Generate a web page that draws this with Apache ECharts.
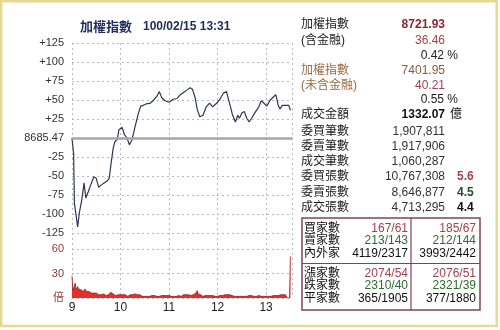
<!DOCTYPE html>
<html>
<head>
<meta charset="utf-8">
<script src="https://cdn.jsdelivr.net/npm/echarts@6/dist/echarts.min.js"></script>
<style>
  html, body { margin: 0; padding: 0; background: #fff; }
  #chart { width: 500px; height: 330px; }
</style>
</head>
<body>
<div id="chart"></div>
<script>
// Taiwan weighted index, intraday session 09:00 - 13:30
const prevClose = 8685.47;
const sessionTitle = '加權指數';
const sessionStamp = '100/02/15 13:31';
const hourLabels = ['9', '10', '11', '12', '13'];

// minutes after 09:00 and change against the previous close
const priceMinutes = [0, 1, 2, 3, 7, 9, 12, 15, 17, 20, 23, 27, 30, 33, 36, 40, 43, 46, 48, 51,
  53, 56, 58, 60, 62, 65, 68, 71, 74, 78, 82, 85, 88, 92, 97, 101, 105, 108, 111, 115,
  120, 125, 130, 134, 138, 142, 146, 149, 152, 155, 158, 162, 166, 170, 174, 179, 183, 187, 191, 193,
  196, 198, 202, 205, 207, 210, 213, 216, 219, 222, 226, 231, 234, 237, 241, 245, 249, 252, 255, 257,
  260, 264, 268, 270];
const priceChanges = [0, -11, -20, -86, -117, -99, -82, -59, -79, -71, -62, -51, -53, -65, -62, -59, -57, -53, -36, -13,
  -5, -2, 11, 10, 14, 4, 0, -9, -3, 15, 32, 42, 43, 45, 46, 50, 55, 61, 53, 49,
  47, 51, 52, 57, 60, 63, 66, 64, 54, 37, 28, 30, 41, 46, 41, 46, 51, 59, 61, 59,
  41, 32, 21, 30, 26, 33, 35, 26, 21, 26, 33, 41, 49, 46, 42, 50, 54, 57, 43, 38,
  43, 43, 43, 36.46];

// per-minute volume ratio (倍), minute 0 .. 270
const volumeRatio = [
  27, 9, 8, 11, 18, 10, 12, 14, 11, 13,
  12, 10, 9, 11, 8, 9, 11, 10, 8, 9,
  7, 8, 9, 7, 6, 7, 5, 6, 7, 5,
  6, 5, 6, 4, 5, 6, 4, 5, 4, 5,
  4, 5, 3, 4, 5, 4, 5, 6, 7, 7,
  6, 5, 4, 4, 3, 4, 3, 4, 3, 3,
  4, 3, 3, 4, 3, 3, 4, 3, 3, 2,
  3, 3, 4, 3, 3, 4, 3, 4, 5, 4,
  6, 4, 3, 3, 4, 3, 3, 2, 3, 3,
  2, 3, 3, 2, 3, 3, 2, 3, 2, 3,
  3, 2, 3, 4, 3, 2, 3, 3, 2, 3,
  2, 3, 2, 3, 3, 2, 2, 3, 2, 3,
  3, 2, 3, 2, 2, 3, 2, 3, 3, 2,
  3, 2, 3, 4, 3, 2, 3, 3, 4, 3,
  3, 4, 3, 5, 4, 3, 4, 3, 4, 5,
  4, 5, 4, 6, 5, 9, 5, 4, 3, 4,
  3, 3, 2, 3, 2, 3, 2, 2, 3, 2,
  2, 3, 2, 2, 3, 2, 3, 2, 2, 3,
  2, 3, 2, 3, 3, 2, 3, 2, 3, 4,
  3, 3, 4, 3, 5, 4, 6, 3, 3, 2,
  3, 2, 3, 2, 2, 3, 2, 2, 3, 2,
  2, 3, 2, 2, 2, 3, 2, 2, 2, 3,
  2, 2, 3, 2, 2, 2, 3, 2, 2, 2,
  2, 3, 2, 2, 2, 3, 2, 2, 3, 2,
  2, 2, 3, 2, 2, 3, 2, 2, 3, 3,
  3, 4, 3, 4, 5, 3, 4, 5, 4, 3,
  5, 4, 5, 6, 4, 5, 0, 0, 0, 0,
  51
];

// ex-financials index
const exFinIndex = 7401.95;
const exFinChange = 40.21;
const turnover = '1332.07';

const tradeLabels = ['委買筆數', '委賣筆數', '成交筆數', '委買張數', '委賣張數', '成交張數'];
const tradeValues = ['1,907,811', '1,917,906', '1,060,287', '10,767,308', '8,646,877', '4,713,295'];
const tradeRatios = ['', '', '', '5.6', '4.5', '4.4'];

const breadthLabels = ['買家數', '賣家數', '內外家', '漲家數', '跌家數', '平家數'];
const breadthNow = ['167/61', '213/143', '4119/2317', '2074/54', '2310/40', '365/1905'];
const breadthPrev = ['185/67', '212/144', '3993/2442', '2076/51', '2321/39', '377/1880'];

const FONT = '"Liberation Sans", Arial, "Noto Sans CJK TC", sans-serif';
const RED = '#a3404f';
const GREEN = '#2f6a2f';
const GRID = '#b9b9b9';

const lastChange = priceChanges[priceChanges.length - 1];
const lastIndex = prevClose + lastChange;
const pct = (lastChange / prevClose * 100).toFixed(2);
const exPct = (exFinChange / (exFinIndex - exFinChange) * 100).toFixed(2);

const pricePoints = priceMinutes.map((m, i) => [m, priceChanges[i]]);
const volumePoints = volumeRatio.map((v, i) => [i, v]);

// right-hand quote panel
const panel = [];
function txt(x, y, s, opt) {
  panel.push({
    type: 'text', x: x, y: y, silent: true,
    style: Object.assign({
      text: s, font: '12px ' + FONT, fill: '#222',
      textAlign: 'left', textVerticalAlign: 'middle'
    }, opt || {})
  });
}
txt(80, 27, sessionTitle, { font: 'bold 13px ' + FONT, fill: '#1d2b5e' });
txt(143, 27, sessionStamp, { font: 'bold 12px ' + FONT, fill: '#1d2b5e' });

const LX = 301, VX = 445;
txt(LX, 25, '加權指數');
txt(VX, 25, lastIndex.toFixed(2), { textAlign: 'right', font: 'bold 12px ' + FONT, fill: '#8a2637' });
txt(LX, 41, '(含金融)');
txt(VX, 41, lastChange.toFixed(2), { textAlign: 'right', fill: RED });
txt(458, 56, pct + ' %', { textAlign: 'right' });
txt(LX, 71, '加權指數', { fill: '#9c6b3c' });
txt(VX, 71, exFinIndex.toFixed(2), { textAlign: 'right', fill: '#8a5a3c' });
txt(LX, 86, '(未含金融)', { fill: '#9c6b3c' });
txt(VX, 86, exFinChange.toFixed(2), { textAlign: 'right', fill: RED });
txt(458, 100, exPct + ' %', { textAlign: 'right' });
txt(LX, 115, '成交金額');
txt(VX, 115, turnover, { textAlign: 'right', font: 'bold 12px ' + FONT, fill: '#111' });
txt(450, 115, '億', { fill: '#111' });

const ratioColors = ['', '', '', RED, '#1f4f1f', '#111'];
tradeLabels.forEach((lab, i) => {
  const y = 131.5 + i * 15.2;
  txt(LX, y, lab);
  txt(VX, y, tradeValues[i], { textAlign: 'right', fill: '#333' });
  if (tradeRatios[i]) {
    txt(457, y, tradeRatios[i], { font: 'bold 12px ' + FONT, fill: ratioColors[i] });
  }
});

// market breadth table
panel.push({
  type: 'rect', silent: true,
  shape: { x: 302, y: 218, width: 178, height: 92 },
  style: { fill: 'none', stroke: '#7d4458', lineWidth: 1.5 }
});
panel.push({
  type: 'line', silent: true,
  shape: { x1: 411, y1: 218, x2: 411, y2: 310 },
  style: { stroke: '#7d4458', lineWidth: 1.2 }
});
panel.push({
  type: 'line', silent: true,
  shape: { x1: 302, y1: 263.5, x2: 480, y2: 263.5 },
  style: { stroke: '#7d4458', lineWidth: 1.2 }
});
const rowY = [228.5, 241, 254, 273.5, 286, 298.5];
const cellColors = [RED, GREEN, '#111', RED, GREEN, '#111'];
breadthLabels.forEach((lab, i) => {
  txt(304, rowY[i], lab, { fill: '#111' });
  txt(408, rowY[i], breadthNow[i], { textAlign: 'right', fill: cellColors[i] });
  txt(476, rowY[i], breadthPrev[i], { textAlign: 'right', fill: cellColors[i] });
});

// outer frame
panel.push({
  type: 'rect', silent: true, z: 100,
  shape: { x: 1.2, y: 1.2, width: 495.5, height: 324.8 },
  style: { fill: 'none', stroke: '#e4da92', lineWidth: 2.4 }
});

const dashed = { show: true, lineStyle: { color: GRID, type: [2, 3], width: 1 } };

const chart = echarts.init(document.getElementById('chart'), null, { renderer: 'canvas' });
chart.setOption({
  animation: false,
  backgroundColor: '#fff',
  textStyle: { fontFamily: FONT },
  graphic: panel,
  grid: [
    { left: 72, top: 43, width: 220, height: 190 },
    { left: 72, top: 233, width: 220, height: 65 }
  ],
  xAxis: [
    {
      type: 'value', gridIndex: 0, min: 0, max: 272, interval: 60,
      axisLine: { show: false }, axisTick: { show: false }, axisLabel: { show: false },
      splitLine: dashed
    },
    {
      type: 'value', gridIndex: 1, min: 0, max: 272, interval: 60,
      axisLine: { show: false }, axisTick: { show: false },
      splitLine: dashed,
      axisLabel: {
        margin: 4, fontSize: 12, color: '#222', fontFamily: FONT,
        showMaxLabel: false,
        formatter: v => (v % 60 === 0 ? hourLabels[v / 60] : '')
      }
    }
  ],
  yAxis: [
    {
      type: 'value', gridIndex: 0, min: -125, max: 125, interval: 25,
      axisLine: { show: false }, axisTick: { show: false },
      splitLine: dashed,
      axisLabel: {
        margin: 8, fontSize: 11, color: '#333', fontFamily: FONT,
        formatter: v => (v > 0 ? '+' + v : v === 0 ? prevClose.toFixed(2) : String(v))
      }
    },
    {
      type: 'value', gridIndex: 1, min: 0, max: 79.5, interval: 30,
      axisLine: { show: false }, axisTick: { show: false },
      splitLine: dashed,
      axisLabel: {
        margin: 8, fontSize: 11, color: '#8a3a3a', fontFamily: FONT,
        showMaxLabel: false,
        formatter: v => (v === 0 ? '倍' : String(v))
      }
    }
  ],
  series: [
    {
      type: 'line', xAxisIndex: 0, yAxisIndex: 0,
      data: pricePoints, symbol: 'none', silent: true,
      lineStyle: { color: '#2d3752', width: 1.2 },
      markLine: {
        silent: true, symbol: 'none', label: { show: false },
        lineStyle: { color: '#a6a6a6', width: 2.5, type: 'solid' },
        data: [{ yAxis: 0 }]
      },
      z: 3
    },
    {
      type: 'line', xAxisIndex: 1, yAxisIndex: 1,
      data: volumePoints, symbol: 'none', silent: true,
      lineStyle: { color: '#9c1c22', width: 0.8 },
      areaStyle: { color: '#e3302f', opacity: 1 }
    }
  ]
});
</script>
</body>
</html>
